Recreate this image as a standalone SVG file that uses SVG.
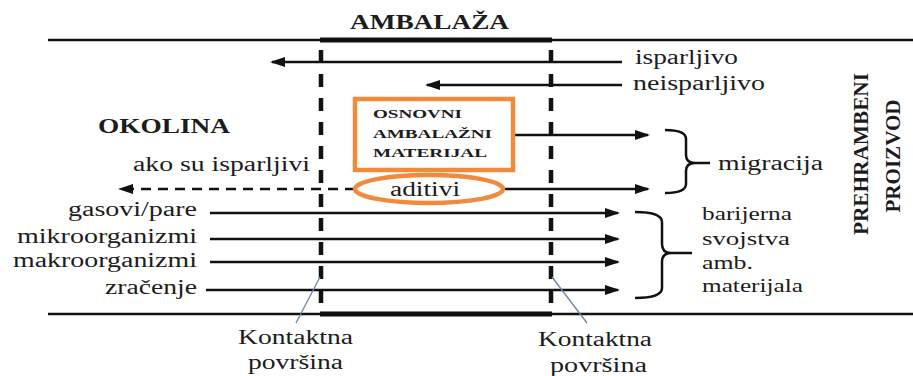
<svg xmlns="http://www.w3.org/2000/svg" width="913" height="376" viewBox="0 0 913 376">
<defs>
<marker id="ah" markerUnits="userSpaceOnUse" markerWidth="16" markerHeight="12" refX="13" refY="6" orient="auto">
<path d="M0,1 L15,6 L0,11 Z" fill="#111"/>
</marker>
<style>
.ln{stroke:#111;stroke-width:2.5;fill:none}
.thick{stroke:#111;stroke-width:5;fill:none}
.vd{stroke:#111;stroke-width:4.5;stroke-dasharray:13 11;fill:none}
.arr{stroke:#111;stroke-width:2.5;fill:none;marker-end:url(#ah)}
.dash{stroke-dasharray:10 7}
.lead{stroke:#6b86a6;stroke-width:1.3;fill:none}
.org{stroke:#F08B3E;stroke-width:4.5;fill:#fff}
</style>
</defs>
<rect width="913" height="376" fill="#fff"/>

<g id="frame">
<line class="ln" x1="48" y1="40" x2="913" y2="40"/>
<line class="thick" x1="320" y1="40" x2="552" y2="40"/>
<line class="ln" x1="48" y1="314" x2="913" y2="314"/>
<line class="thick" x1="320" y1="314" x2="552" y2="314"/>
<line class="vd" x1="321" y1="50" x2="321" y2="313"/>
<line class="vd" x1="551" y1="50" x2="551" y2="313"/>
</g>

<g id="connectors">
<line class="arr" x1="622" y1="62" x2="272" y2="62"/>
<line class="arr" x1="622" y1="85" x2="427" y2="85"/>
<line class="arr" x1="513" y1="135" x2="648" y2="135"/>
<line class="arr" x1="503" y1="189" x2="648" y2="189"/>
<line class="arr dash" x1="355" y1="189" x2="120" y2="189"/>
<line class="arr" x1="210" y1="213" x2="618" y2="213"/>
<line class="arr" x1="210" y1="239" x2="618" y2="239"/>
<line class="arr" x1="210" y1="262" x2="618" y2="262"/>
<line class="arr" x1="206" y1="290" x2="618" y2="290"/>
<path class="ln" d="M665,130 Q686,130 686,139 L686,155 Q686,163 695,163 L710,163 M695,163 Q686,163 686,171 L686,184 Q686,193 665,193"/>
<path class="ln" d="M635,212 Q662,212 662,222 L662,244 Q662,253 671,253 L692,253 M671,253 Q662,253 662,262 L662,288 Q662,298 635,298"/>
<line class="lead" x1="320" y1="277" x2="296" y2="323"/>
<line class="lead" x1="552" y1="277" x2="587" y2="323"/>
</g>

<g font-family="Liberation Serif, DejaVu Serif, serif" fill="#1c1c1c" font-size="20">
<g id="ambalaza"><text font-weight="bold" x="350" y="29" font-size="20" textLength="159" lengthAdjust="spacingAndGlyphs">AMBALAŽA</text></g>
<g id="okolina"><text font-weight="bold" x="98" y="133" font-size="20" textLength="132" lengthAdjust="spacingAndGlyphs">OKOLINA</text></g>

<g id="osnovni">
<rect class="org" x="355" y="99" width="158" height="71"/>
<text font-weight="bold" x="373" y="118" font-size="13" textLength="89" lengthAdjust="spacingAndGlyphs">OSNOVNI</text>
<text font-weight="bold" x="373" y="138" font-size="13" textLength="119" lengthAdjust="spacingAndGlyphs">AMBALAŽNI</text>
<text font-weight="bold" x="373" y="157" font-size="13" textLength="114" lengthAdjust="spacingAndGlyphs">MATERIJAL</text>
</g>

<g id="aditivi">
<ellipse class="org" cx="429" cy="189" rx="74" ry="14"/>
<text x="390" y="196" textLength="70" lengthAdjust="spacingAndGlyphs">aditivi</text>
</g>

<g id="isparljivo"><text x="635" y="64" textLength="103" lengthAdjust="spacingAndGlyphs">isparljivo</text></g>
<g id="neisparljivo"><text x="633" y="90" textLength="132" lengthAdjust="spacingAndGlyphs">neisparljivo</text></g>
<g id="ako"><text x="133" y="171" textLength="177" lengthAdjust="spacingAndGlyphs">ako su isparljivi</text></g>
<g id="migracija"><text x="718" y="170" textLength="105" lengthAdjust="spacingAndGlyphs">migracija</text></g>

<g id="gasovi"><text x="68" y="216" textLength="129" lengthAdjust="spacingAndGlyphs">gasovi/pare</text></g>
<g id="mikro"><text x="17" y="243" textLength="180" lengthAdjust="spacingAndGlyphs">mikroorganizmi</text></g>
<g id="makro"><text x="13" y="267" textLength="184" lengthAdjust="spacingAndGlyphs">makroorganizmi</text></g>
<g id="zracenje"><text x="105" y="294" textLength="92" lengthAdjust="spacingAndGlyphs">zračenje</text></g>

<g id="barijerna" font-size="19">
<text x="702" y="220" textLength="90" lengthAdjust="spacingAndGlyphs">barijerna</text>
<text x="702" y="245" textLength="88" lengthAdjust="spacingAndGlyphs">svojstva</text>
<text x="702" y="269" textLength="51" lengthAdjust="spacingAndGlyphs">amb.</text>
<text x="702" y="292" textLength="101" lengthAdjust="spacingAndGlyphs">materijala</text>
</g>

<g id="proizvod" font-weight="bold" font-size="21">
<text text-anchor="middle" transform="translate(868,154) rotate(-90)" textLength="162" lengthAdjust="spacingAndGlyphs">PREHRAMBENI</text>
<text text-anchor="middle" transform="translate(900,156) rotate(-90)" textLength="113" lengthAdjust="spacingAndGlyphs">PROIZVOD</text>
</g>

<g id="kontakt-left">
<text x="238" y="344" textLength="115" lengthAdjust="spacingAndGlyphs">Kontaktna</text>
<text x="248" y="369" textLength="95" lengthAdjust="spacingAndGlyphs">površina</text>
</g>
<g id="kontakt-right">
<text x="538" y="346" textLength="114" lengthAdjust="spacingAndGlyphs">Kontaktna</text>
<text x="550" y="372" textLength="97" lengthAdjust="spacingAndGlyphs">površina</text>
</g>
</g>
</svg>
